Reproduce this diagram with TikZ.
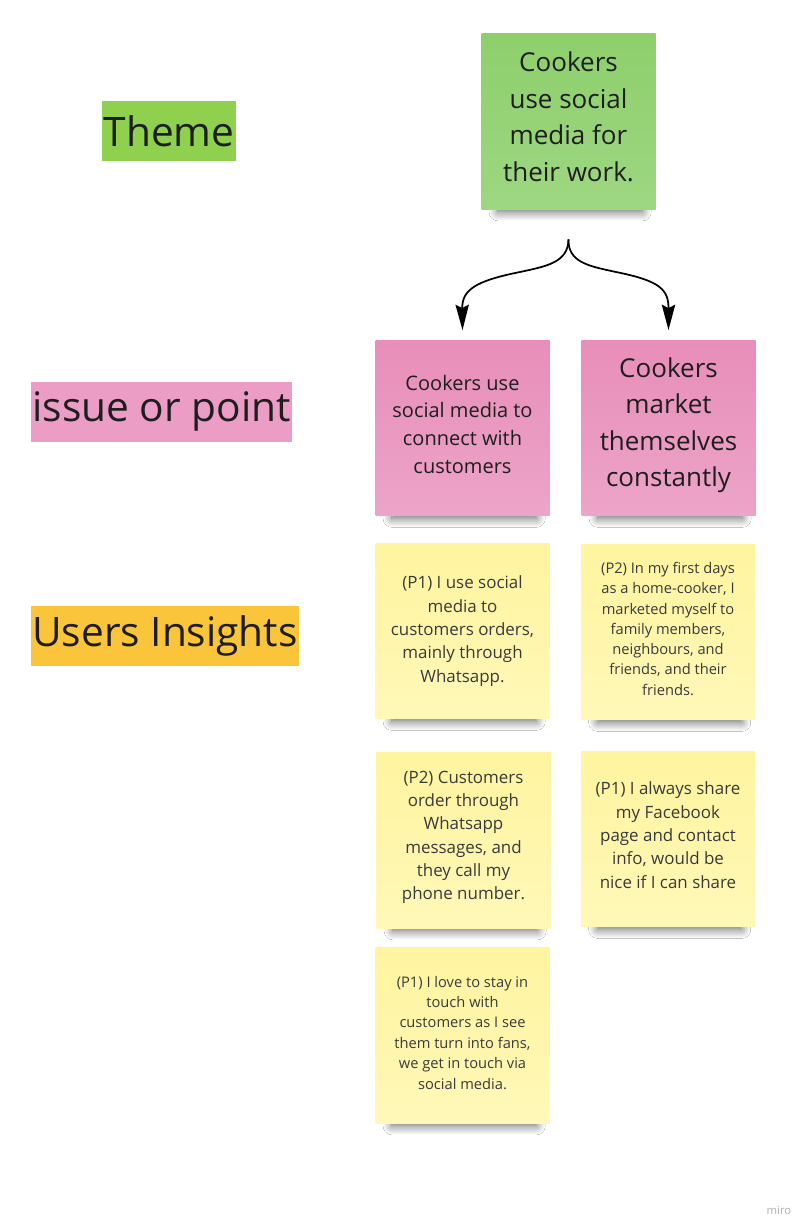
\documentclass[tikz,border=0pt]{standalone}
\usepackage{fontspec}
\setmainfont{Open Sans}
\usepackage{tikz}
\usetikzlibrary{shadows.blur}
\usetikzlibrary{arrows.meta}
\usetikzlibrary{calc}

\definecolor{labelGreen}{HTML}{8FD14F}
\definecolor{labelPink}{HTML}{EC9DC6}
\definecolor{labelOrange}{HTML}{FAC53B}
\definecolor{greenTop}{HTML}{8ECF6C}
\definecolor{greenBot}{HTML}{9DD782}
\definecolor{pinkTop}{HTML}{E88EB9}
\definecolor{pinkBot}{HTML}{ECA4C7}
\definecolor{yellowTop}{HTML}{FFF49F}
\definecolor{yellowBot}{HTML}{FFF8B8}
\definecolor{noteText}{HTML}{1E1E1E}
\definecolor{insightText}{HTML}{3A3A3A}

% extra depth under the last line, lifts the text a little
\newcommand{\liftby}[1]{\rule[-#1]{0pt}{#1}}

\tikzset{
  sticky/.style={minimum width=130.5pt, minimum height=131.5pt, inner sep=3pt, align=center,
    text=noteText,
    blur shadow={shadow xshift=1.5pt, shadow yshift=-16pt, shadow scale=0.83,
      shadow opacity=60, shadow blur radius=8pt, shadow blur steps=14}},
  themenote/.style={sticky, top color=greenTop, bottom color=greenBot,
    font=\fontsize{19.5}{27.4}\selectfont},
  issuenote/.style={sticky, top color=pinkTop, bottom color=pinkBot},
  insightnote/.style={sticky, top color=yellowTop, bottom color=yellowBot, text=insightText},
  rowlabel/.style={inner xsep=1pt, inner ysep=0pt, minimum height=45pt, text=noteText,
    font=\fontsize{30.5}{35}\selectfont},
  conn/.style={line width=1.3pt, -{Stealth[length=19pt, width=10pt, inset=2.5pt]}},
}

\begin{document}
\begin{tikzpicture}[x=0.75pt,y=0.75pt,yscale=-1]
  \useasboundingbox[fill=white] (0,0) rectangle (811,1232);

  %Row labels
  \node[rowlabel, fill=labelGreen] (lblTheme) at (169,131) {Theme};
  \node[rowlabel, fill=labelPink] (lblIssue) at (161.5,411.5) {issue or point};
  \node[rowlabel, fill=labelOrange] (lblUsers) at (165,636) {Users Insights};

  %Theme
  \node[themenote] (theme) at (568.5,121.5) {Cookers\\use social\\media for\\their work.\liftby{7.5pt}};

  %Issues
  \node[issuenote, font=\fontsize{15}{20.8}\selectfont] (issueA) at (462.5,428)
    {Cookers use\\social media to\\connect with\\customers\liftby{6pt}};
  \node[issuenote, font=\fontsize{19.5}{27.2}\selectfont] (issueB) at (668.5,428)
    {Cookers\\market\\themselves\\constantly\liftby{9pt}};

  %Insights, left column
  \node[insightnote, font=\fontsize{12.7}{17.5}\selectfont] (insA1) at (462.5,631)
    {(P1) I use social\\media to\\customers orders,\\mainly through\\Whatsapp.};
  \node[insightnote, font=\fontsize{12.7}{17.5}\selectfont] (insA2) at (463.5,840.5)
    {(P2) Customers\\order through\\Whatsapp\\messages, and\\they call my\\phone number.\liftby{7.5pt}};
  \node[insightnote, font=\fontsize{11}{15.3}\selectfont] (insA3) at (462.5,1035.5)
    {(P1) I love to stay in\\touch with\\customers as I see\\them turn into fans,\\we get in touch via\\social media.\liftby{4.5pt}};

  %Insights, right column
  \node[insightnote, font=\fontsize{11}{15.2}\selectfont] (insB1) at (668,632)
    {(P2) In my first days\\as a home-cooker, I\\marketed myself to\\family members,\\neighbours, and\\friends, and their\\friends.\liftby{5pt}};
  \node[insightnote, font=\fontsize{12.7}{17.5}\selectfont] (insB2) at (668,839)
    {(P1) I always share\\my Facebook\\page and contact\\info, would be\\nice if I can share\liftby{6pt}};

  %Split arrows
  \coordinate (split) at ($(theme.south)+(0,30)$);
  \draw[conn] (split) .. controls (568,262) and (548,266) .. (520,272)
    .. controls (475,281) and (462,290) .. ($(issueA.north)+(0,-10)$);
  \draw[conn] (split) .. controls (568,262) and (588,266) .. (616,272)
    .. controls (661,281) and (668.5,290) .. ($(issueB.north)+(0,-10)$);

  %Watermark
  \node[text=black!30, font=\fontsize{8.5}{10}\selectfont] (mark) at (779,1210) {miro};
\end{tikzpicture}
\end{document}
